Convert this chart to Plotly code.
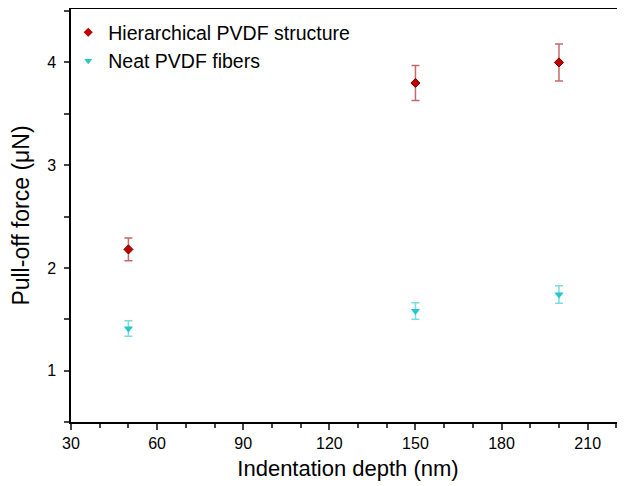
import plotly.graph_objects as go

depth = [50, 150, 200]

hier_force = [2.18, 3.80, 4.00]
hier_err = [0.11, 0.17, 0.18]

neat_force = [1.41, 1.58, 1.74]
neat_err = [0.075, 0.08, 0.085]

red = "#C00000"
cyan = "#22C8CC"

fig = go.Figure()

fig.add_trace(
    go.Scatter(
        x=depth,
        y=hier_force,
        mode="markers",
        showlegend=False,
        marker=dict(symbol="diamond", size=7, color=red,
                    line=dict(color="#7A0000", width=1)),
        error_y=dict(type="data", array=hier_err, color="#C46A6A",
                     thickness=1.5, width=4),
    )
)

fig.add_trace(
    go.Scatter(
        x=depth,
        y=neat_force,
        mode="markers",
        showlegend=False,
        marker=dict(symbol="triangle-down", size=8, color=cyan),
        error_y=dict(type="data", array=neat_err, color="#7EDCDE",
                     thickness=1.5, width=4),
    )
)

# smaller markers for the legend entries
fig.add_trace(go.Scatter(x=[None], y=[None], mode="markers",
                         name="Hierarchical PVDF structure",
                         marker=dict(symbol="diamond", size=7, color=red)))
fig.add_trace(go.Scatter(x=[None], y=[None], mode="markers",
                         name="Neat PVDF fibers",
                         marker=dict(symbol="triangle-down", size=7, color=cyan)))

# page body has a small margin, so the figure is sized to fit the window
fig.update_layout(
    width=617,
    height=478,
    margin=dict(l=63, r=0, t=1, b=64),
    paper_bgcolor="white",
    plot_bgcolor="white",
    font=dict(family="Liberation Sans, Arial, sans-serif", color="black"),
    legend=dict(
        x=-0.005, y=0.99, xanchor="left", yanchor="top",
        font=dict(size=19.5), bgcolor="rgba(0,0,0,0)",
        itemwidth=30, tracegroupgap=0,
    ),
)

fig.update_xaxes(
    range=[30, 223.0],
    tick0=30, dtick=30,
    ticks="outside", ticklen=6, tickwidth=1.5,
    minor=dict(dtick=10, ticks="outside", ticklen=4, tickwidth=1.5),
    showline=True, linewidth=1.5, linecolor="black", mirror=True,
    showgrid=False, zeroline=False, automargin=False,
    tickfont=dict(size=16),
    title=dict(text="Indentation depth (nm)", font=dict(size=22), standoff=10),
)

fig.update_yaxes(
    range=[0.5, 4.52],
    tick0=1, dtick=1,
    ticks="outside", ticklen=5, tickwidth=1.5,
    minor=dict(dtick=0.5, ticks="outside", ticklen=5, tickwidth=1.5),
    showline=True, linewidth=1.5, linecolor="black",
    showgrid=False, zeroline=False, automargin=False,
    ticklabelstandoff=5,
    tickfont=dict(size=16),
    title=dict(text="Pull-off force (μN)", font=dict(size=23), standoff=14),
)

fig.write_html("out.html")
